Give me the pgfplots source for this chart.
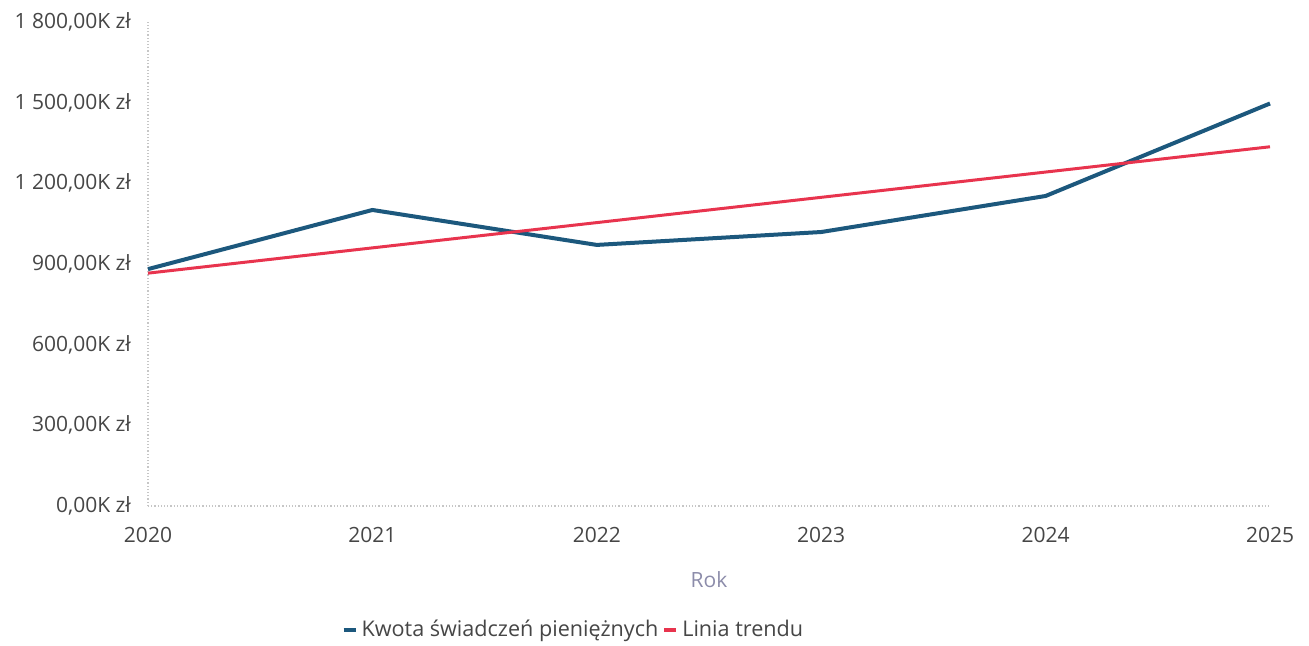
\documentclass[border=0pt]{standalone}
\usepackage{fontspec}
\setmainfont{Open Sans}
\usepackage{pgfplots}
\pgfplotsset{compat=1.18}

\definecolor{kwota}{RGB}{28,88,125}
\definecolor{trend}{RGB}{232,52,78}
\definecolor{ticktxt}{RGB}{70,70,70}
\definecolor{roktxt}{RGB}{140,140,170}

\begin{document}
\begin{tikzpicture}
\path[use as bounding box] (-74pt,-69.5pt) rectangle (580.5pt,253pt);
\begin{axis}[
    at={(0,0)}, anchor=south west,
    scale only axis,
    width=561pt, height=242pt,
    xmin=2020, xmax=2025,
    ymin=0, ymax=1800,
    xtick={2020,2021,2022,2023,2024,2025},
    xticklabels={2020,2021,2022,2023,2024,2025},
    ytick={0,300,600,900,1200,1500,1800},
    yticklabels={{0,00K zł},{300,00K zł},{600,00K zł},{900,00K zł},{1 200,00K zł},{1 500,00K zł},{1 800,00K zł}},
    axis x line=bottom, axis y line=left,
    axis line style={-, gray!45, densely dotted, line width=0.6pt},
    major tick length=0pt,
    tick label style={font=\fontsize{10.5}{12}\selectfont, text=ticktxt},
    yticklabel style={xshift=-5pt},
    xticklabel style={yshift=-7pt},
    xlabel={Rok},
    xlabel style={at={(axis description cs:0.5,0)}, anchor=center, yshift=-37pt,
        font=\fontsize{10.5}{12}\selectfont, text=roktxt},
    legend columns=2,
    legend style={at={(axis description cs:0.38,-0.256)}, anchor=center, draw=none,
        font=\fontsize{10.8}{12}\selectfont, text=ticktxt,
        /tikz/every even column/.append style={column sep=0pt}},
    legend image code/.code={\draw[#1, line width=2pt] (0pt,0pt) -- (6pt,0pt);},
    clip=false,
]
\addplot[kwota, line width=2pt, line join=round] coordinates {
    (2020,881) (2021,1101) (2022,971) (2023,1019) (2024,1153) (2025,1497)};
\addlegendentry{Kwota świadczeń pieniężnych}
\addplot[trend, line width=1.5pt] coordinates {(2020,866) (2025,1336)};
\addlegendentry{Linia trendu}
\end{axis}
\end{tikzpicture}
\end{document}
